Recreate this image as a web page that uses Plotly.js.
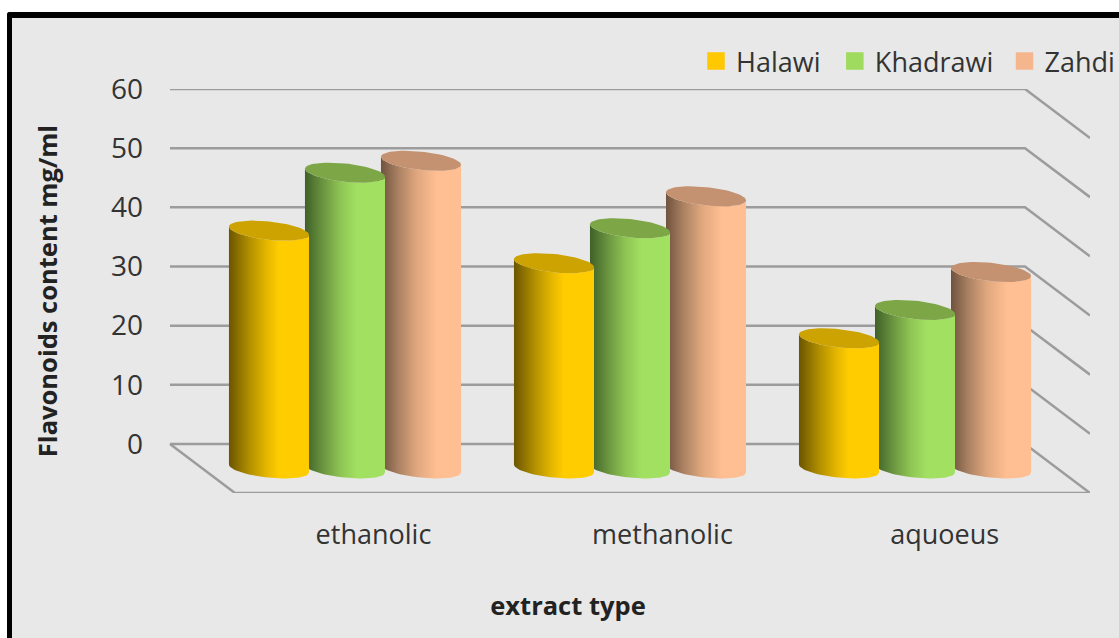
<!DOCTYPE html>
<html>
<head>
<meta charset="utf-8">
<script src="https://cdn.plot.ly/plotly-3.0.1.min.js"></script>
<style>
  html, body { margin: 0; padding: 0; background: #ffffff; overflow: hidden; }
  #panel { position: absolute; left: 7px; top: 12px; width: 1112px; height: 626px; box-sizing: border-box;
           background: #e8e8e8; border-left: 5px solid #000; border-top: 6px solid #000; border-top-left-radius: 3px; }
  #chart { position: absolute; left: 0; top: 0; width: 1119px; height: 638px; }
</style>
</head>
<body>
<div id="panel"></div>
<div id="chart"></div>
<script>
// Flavonoid content by extract type and date cultivar
const categories = ['ethanolic', 'methanolic', 'aquoeus'];
const categoryPositions = [0.5, 1.5, 2.5];
const categoryLabelPositions = [0.486, 1.5, 2.49];
const halawi = [40.2, 34.7, 22.0];
const khadrawi = [50.0, 40.6, 26.8];
const zahdi = [52.0, 46.0, 33.2];
const valueTicks = [0, 10, 20, 30, 40, 50, 60];

// Oblique projection of the chart box, in axis units
const BACK_DX = -0.228;     // how far the back wall sits to the left of the front edge
const FRONT_DY = -8.28;     // how far the front edge sits below the back wall
const MID_DX = BACK_DX / 2; // cylinders stand half way through the depth
const MID_DY = FRONT_DY / 2;

// Cylinder cross-section, in axis units
const RX = 0.1404;
const TILT = 0.676;
const RY = 1.555;
const SERIES_STEP = 0.2667;

const cylinderStyles = {
  Halawi: {
    cap: '#cca300', legend: '#ffc800',
    ramp: [[0, '#6b5500'], [0.25, '#b08e00'], [0.45, '#e0b300'], [0.62, '#ffcc00'], [1, '#ffcc00']]
  },
  Khadrawi: {
    cap: '#7da747', legend: '#9fdb5e',
    ramp: [[0, '#3f6128'], [0.25, '#6f9a42'], [0.45, '#8fc654'], [0.65, '#a2e061'], [1, '#a2e061']]
  },
  Zahdi: {
    cap: '#c49270', legend: '#f5b68d',
    ramp: [[0, '#70523e'], [0.22, '#ab8263'], [0.45, '#e0a77e'], [0.7, '#ffbf92'], [1, '#ffbf92']]
  }
};

// Point on the tilted ellipse round (cx, cy); angle runs so that positive sine is downwards on screen
function rim(cx, cy, deg) {
  const t = deg * Math.PI / 180;
  return [cx + RX * Math.cos(t), cy - TILT * Math.cos(t) - RY * Math.sin(t)];
}

function cylinderTraces(name, values, slot) {
  const style = cylinderStyles[name];
  const out = [];
  values.forEach((value, i) => {
    const cx = categoryPositions[i] + MID_DX + slot * SERIES_STEP;
    const yBase = MID_DY;
    const yTop = value + MID_DY;
    const bodyX = [], bodyY = [], capX = [], capY = [];
    // wall: down the left edge, round the foot, up the right edge, back under the cap
    for (let d = 180; d >= 0; d -= 5) { const p = rim(cx, yBase, d); bodyX.push(p[0]); bodyY.push(p[1]); }
    for (let d = 0; d <= 180; d += 5) { const p = rim(cx, yTop, d); bodyX.push(p[0]); bodyY.push(p[1]); }
    for (let d = 0; d <= 360; d += 5) { const p = rim(cx, yTop, d); capX.push(p[0]); capY.push(p[1]); }
    out.push({
      x: bodyX, y: bodyY, mode: 'lines', fill: 'toself', showlegend: false, hoverinfo: 'skip',
      line: { width: 0, color: style.legend },
      fillgradient: { type: 'horizontal', colorscale: style.ramp }
    });
    out.push({
      x: capX, y: capY, mode: 'lines', fill: 'toself', showlegend: false, hoverinfo: 'skip',
      line: { width: 0, color: style.cap }, fillcolor: style.cap
    });
  });
  return out;
}

// Back wall and right wall gridlines, plus the floor outline
const xRight = categories.length;
const wallX = [], wallY = [];
valueTicks.forEach(v => {
  wallX.push(BACK_DX, xRight + BACK_DX, xRight, null);
  wallY.push(v, v, v + FRONT_DY, null);
});
wallX.push(BACK_DX, 0, xRight);
wallY.push(0, FRONT_DY, FRONT_DY);

const gridTrace = {
  x: wallX, y: wallY, mode: 'lines', showlegend: false, hoverinfo: 'skip', cliponaxis: false,
  line: { color: '#9c9c9c', width: 2.5 }
};

// Legend keys: one small legend per cultivar, so each key sits at its own spot above the chart
const legendNames = ['Halawi', 'Khadrawi', 'Zahdi'];
const legendIds = ['legend', 'legend2', 'legend3'];
const legendAnchors = [0.6226, 0.7556, 0.9181];
const legendTraces = legendNames.map((name, i) => ({
  x: [null], y: [null], name: name, mode: 'markers', legend: legendIds[i],
  marker: { symbol: 'square', size: 16, color: cylinderStyles[name].legend,
            line: { width: 1.5, color: cylinderStyles[name].legend } }
}));

const traces = [gridTrace]
  .concat(cylinderTraces('Zahdi', zahdi, 1))
  .concat(cylinderTraces('Khadrawi', khadrawi, 0))
  .concat(cylinderTraces('Halawi', halawi, -1))
  .concat(legendTraces);

const FONT = '"Open Sans", sans-serif';
const TITLE_FONT = { family: FONT, size: 25.5, color: '#222222', weight: 700 };
const layout = {
  width: 1119, height: 638,
  margin: { l: 46, r: 29, t: 89, b: 145, autoexpand: false },
  paper_bgcolor: 'rgba(0,0,0,0)', plot_bgcolor: 'rgba(0,0,0,0)',
  font: { family: FONT, size: 27, color: '#333333' },
  showlegend: true,
  xaxis: {
    range: [-0.663, 3], tickmode: 'array', tickvals: categoryLabelPositions, ticktext: categories,
    showgrid: false, zeroline: false, showline: false, ticks: '', ticklabelstandoff: 23,
    title: { text: 'extract type', font: TITLE_FONT, standoff: 46 },
    automargin: false
  },
  yaxis: {
    range: [FRONT_DY, 60], tickmode: 'array', tickvals: valueTicks,
    tickfont: { size: 28 },
    anchor: 'free', position: 0.1188,
    showgrid: false, zeroline: false, showline: false, ticks: '', ticklabelstandoff: 27,
    title: { text: 'Flavonoids content mg/ml', font: TITLE_FONT, standoff: 45 },
    automargin: false
  }
};
legendIds.forEach((id, i) => {
  layout[id] = {
    x: legendAnchors[i], xanchor: 'left', y: 1.0076, yanchor: 'bottom',
    bgcolor: 'rgba(0,0,0,0)', font: { size: 27, color: '#333333' }, itemwidth: 30
  };
});

Plotly.newPlot('chart', traces, layout, { staticPlot: true, displayModeBar: false });
</script>
</body>
</html>
